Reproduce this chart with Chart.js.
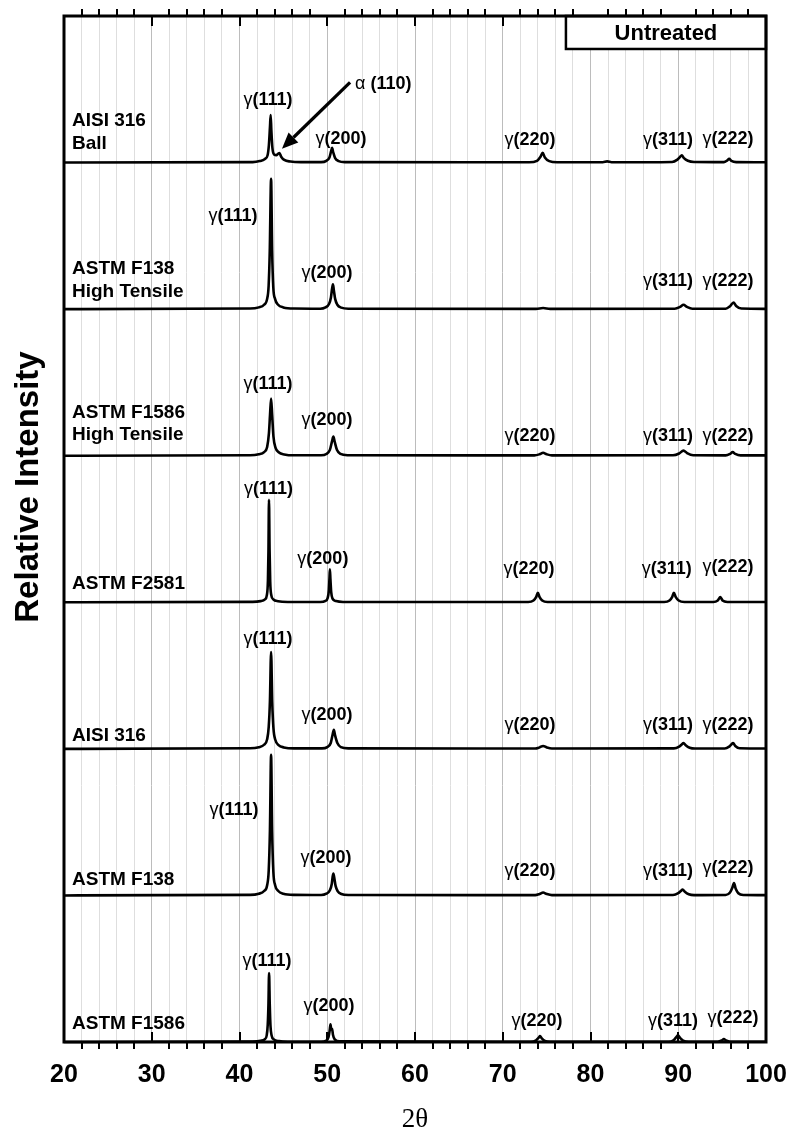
<!DOCTYPE html>
<html><head><meta charset="utf-8">
<script src="https://cdn.jsdelivr.net/npm/chart.js@4.4.1/dist/chart.umd.min.js"></script>
<style>html,body{margin:0;padding:0;background:#fff}canvas{display:block}</style>
</head><body>
<canvas id="c" width="790" height="1134"></canvas>
<script>
// ---- Data: XRD patterns, [2theta, relative intensity] (panel units) ----
const aisi316Ball = [[20,0],[41.5,0.003],[42.3,0.01],[42.9,0.025],[43.2,0.05],[43.35,0.12],[43.47,0.24],[43.55,0.325],[43.63,0.22],[43.75,0.1],[43.95,0.055],[44.2,0.05],[44.4,0.06],[44.55,0.065],[44.75,0.04],[45.1,0.018],[45.8,0.007],[47,0.003],
 [49.3,0.003],[49.9,0.012],[50.25,0.035],[50.45,0.08],[50.55,0.1],[50.68,0.07],[50.9,0.03],[51.3,0.01],[52,0.003],
 [73,0.002],[73.9,0.012],[74.3,0.04],[74.55,0.066],[74.8,0.035],[75.3,0.01],[76.2,0.002],
 [81.4,0.002],[81.9,0.008],[82.4,0.002],
 [89.3,0.004],[89.9,0.02],[90.2,0.038],[90.4,0.05],[90.65,0.03],[91.1,0.012],[91.8,0.004],
 [95.2,0.003],[95.6,0.015],[95.8,0.025],[96.05,0.012],[96.6,0.003],[100,0.002]];
const f138HighTensile = [[20,0],[41.2,0.004],[42.2,0.012],[42.8,0.03],[43.15,0.07],[43.32,0.16],[43.45,0.4],[43.6,0.89],[43.72,0.4],[43.85,0.15],[44.05,0.07],[44.4,0.03],[45,0.012],[46.2,0.004],
 [49.2,0.003],[49.8,0.012],[50.2,0.035],[50.42,0.08],[50.55,0.14],[50.65,0.17],[50.75,0.13],[50.9,0.07],[51.15,0.03],[51.6,0.01],[52.4,0.003],
 [73.8,0.002],[74.6,0.008],[75.4,0.002],
 [89.6,0.003],[90.2,0.015],[90.6,0.03],[91,0.015],[91.6,0.003],
 [95.4,0.003],[95.9,0.02],[96.3,0.045],[96.6,0.022],[97.2,0.004],[100,0.002]];
const f1586HighTensile = [[20,0],[41.2,0.003],[42.2,0.01],[42.8,0.025],[43.15,0.06],[43.35,0.15],[43.48,0.28],[43.6,0.39],[43.72,0.28],[43.87,0.13],[44.1,0.055],[44.5,0.022],[45.1,0.009],[46.2,0.003],
 [49.3,0.003],[49.9,0.012],[50.3,0.04],[50.55,0.1],[50.7,0.13],[50.85,0.095],[51.1,0.04],[51.5,0.012],[52.3,0.003],
 [73.6,0.002],[74.2,0.01],[74.6,0.02],[75,0.01],[75.6,0.002],
 [89.4,0.003],[90.1,0.015],[90.6,0.035],[91.0,0.018],[91.7,0.003],
 [95.4,0.002],[95.9,0.012],[96.2,0.025],[96.5,0.012],[97.1,0.002],[100,0.002]];
const f2581 = [[20,0],[41.5,0.003],[42.4,0.008],[42.9,0.02],[43.12,0.05],[43.24,0.15],[43.3,0.35],[43.36,0.70],[43.43,0.35],[43.5,0.14],[43.62,0.05],[43.85,0.02],[44.4,0.007],[45.5,0.002],
 [49.2,0.002],[49.8,0.01],[50.05,0.03],[50.18,0.08],[50.25,0.16],[50.3,0.225],[50.36,0.16],[50.45,0.07],[50.6,0.025],[51,0.008],[51.8,0.002],
 [72.9,0.002],[73.5,0.012],[73.8,0.035],[74.0,0.065],[74.2,0.035],[74.5,0.012],[75.1,0.002],
 [88.4,0.002],[89.0,0.012],[89.3,0.035],[89.5,0.065],[89.72,0.035],[90.05,0.012],[90.7,0.002],
 [94.0,0.002],[94.5,0.012],[94.8,0.035],[95.05,0.012],[95.6,0.002],[100,0.002]];
const aisi316 = [[20,0],[41.2,0.004],[42.2,0.011],[42.8,0.028],[43.15,0.065],[43.33,0.15],[43.47,0.33],[43.6,0.66],[43.73,0.32],[43.87,0.14],[44.08,0.062],[44.45,0.026],[45.05,0.01],[46.2,0.003],
 [49.4,0.003],[50.0,0.012],[50.4,0.04],[50.62,0.1],[50.75,0.13],[50.9,0.09],[51.15,0.04],[51.55,0.012],[52.4,0.003],
 [73.7,0.002],[74.2,0.01],[74.6,0.02],[75,0.01],[75.6,0.002],
 [89.5,0.003],[90.1,0.015],[90.4,0.03],[90.6,0.04],[90.85,0.025],[91.3,0.008],[91.9,0.002],
 [95.3,0.002],[95.8,0.015],[96.05,0.03],[96.25,0.04],[96.5,0.02],[97.0,0.004],[100,0.002]];
const f138 = [[20,0],[41.2,0.004],[42.2,0.012],[42.8,0.03],[43.15,0.07],[43.33,0.17],[43.47,0.45],[43.6,0.96],[43.72,0.44],[43.86,0.16],[44.06,0.07],[44.42,0.03],[45,0.012],[46.2,0.004],
 [49.3,0.003],[49.9,0.012],[50.3,0.035],[50.52,0.08],[50.62,0.13],[50.7,0.15],[50.8,0.12],[50.95,0.065],[51.2,0.028],[51.6,0.01],[52.4,0.003],
 [73.7,0.002],[74.2,0.01],[74.6,0.02],[75,0.01],[75.6,0.002],
 [89.4,0.003],[90.0,0.015],[90.3,0.03],[90.5,0.04],[90.75,0.025],[91.2,0.008],[91.8,0.002],
 [95.4,0.003],[95.9,0.02],[96.15,0.05],[96.35,0.085],[96.55,0.045],[96.85,0.015],[97.4,0.003],[100,0.002]];
const f1586 = [[20,0],[41.5,0.003],[42.4,0.008],[42.9,0.02],[43.1,0.045],[43.22,0.12],[43.3,0.26],[43.37,0.47],[43.45,0.25],[43.53,0.11],[43.66,0.045],[43.9,0.018],[44.5,0.006],[45.5,0.002],
 [49.3,0.002],[49.9,0.01],[50.15,0.035],[50.28,0.08],[50.37,0.12],[50.45,0.085],[50.55,0.09],[50.65,0.05],[50.85,0.018],[51.4,0.004],
 [73.2,0.002],[73.8,0.012],[74.1,0.03],[74.25,0.04],[74.45,0.025],[74.8,0.008],[75.4,0.002],
 [88.9,0.002],[89.5,0.014],[89.8,0.035],[89.97,0.045],[90.2,0.028],[90.55,0.01],[91.2,0.002],
 [94.5,0.002],[94.95,0.01],[95.2,0.02],[95.45,0.01],[95.9,0.002],[100,0.002]];

// panels, top to bottom
const spectra = [aisi316Ball, f138HighTensile, f1586HighTensile, f2581, aisi316, f138, f1586];
const sampleNames = [['AISI 316','Ball'],['ASTM F138','High Tensile'],['ASTM F1586','High Tensile'],['ASTM F2581'],['AISI 316'],['ASTM F138'],['ASTM F1586']];
const sampleNameY = [[0.25,0.095],[0.24,0.082],[0.26,0.11],[0.09],[0.055],[0.07],[0.09]];

// peak labels per panel: [reflection, label-centre 2theta, label baseline height]
const peakLabels = [
  [['111',43.25,0.39],['200',51.57,0.13],['220',73.1,0.12],['311',88.83,0.12],['222',95.67,0.13]],
  [['111',39.26,0.60],['200',49.97,0.21],['311',88.83,0.157],['222',95.67,0.157]],
  [['111',43.25,0.457],['200',49.97,0.21],['220',73.1,0.10],['311',88.83,0.10],['222',95.67,0.10]],
  [['111',43.3,0.737],['200',49.5,0.26],['220',73.0,0.19],['311',88.7,0.19],['222',95.67,0.21]],
  [['111',43.25,0.716],['200',49.97,0.20],['220',73.1,0.13],['311',88.83,0.13],['222',95.67,0.13]],
  [['111',39.37,0.546],['200',49.86,0.22],['220',73.1,0.13],['311',88.83,0.13],['222',95.67,0.15]],
  [['111',43.13,0.52],['200',50.2,0.21],['220',73.9,0.11],['311',89.4,0.11],['222',96.24,0.13]]
];
const alphaLabel = ['(110)', 53.16, 0.50];
const alphaArrow = [[52.6,0.547],[44.84,0.095]];
const boxLabel = 'Untreated';
const xTitle = '2θ';
const yTitle = 'Relative Intensity';

const nPanels = spectra.length;
const datasets = spectra.map((s, i) => ({
  data: s.map(p => ({x: p[0], y: p[1] + (nPanels - 1 - i)})),
  borderColor: '#000', borderWidth: 2.6, pointRadius: 0,
  cubicInterpolationMode: 'monotone', clip: false, borderJoinStyle: 'round'
}));

const SANS = '"Liberation Sans", Arial, sans-serif';

const deco = {
  id: 'deco',
  afterDraw(chart) {
    const {ctx, chartArea: a, scales: {x, y}} = chart;
    ctx.save();
    ctx.fillStyle = '#000'; ctx.strokeStyle = '#000';
    // ticks: major inward, minor outward
    ctx.lineWidth = 2;
    x.ticks.forEach(t => {
      const px = Math.round(x.getPixelForValue(t.value));
      ctx.beginPath();
      if (t.value % 10 === 0) {
        ctx.moveTo(px, a.top); ctx.lineTo(px, a.top + 10);
        ctx.moveTo(px, a.bottom); ctx.lineTo(px, a.bottom - 10);
      } else {
        ctx.moveTo(px, a.top); ctx.lineTo(px, a.top - 7);
        ctx.moveTo(px, a.bottom); ctx.lineTo(px, a.bottom + 7);
      }
      ctx.stroke();
    });
    // untreated box
    const bx = x.getPixelForValue(77.2), by = y.getPixelForValue(6.775);
    ctx.fillStyle = '#fff';
    ctx.fillRect(bx, a.top, a.right - bx, by - a.top);
    ctx.lineWidth = 2.5;
    ctx.strokeRect(bx, a.top, a.right - bx, by - a.top);
    ctx.fillStyle = '#000';
    ctx.font = 'bold 22px ' + SANS;
    ctx.textAlign = 'center'; ctx.textBaseline = 'middle';
    ctx.fillText(boxLabel, (bx + a.right) / 2, (a.top + by) / 2 + 1);
    // border
    ctx.lineWidth = 3;
    ctx.strokeRect(a.left, a.top, a.right - a.left, a.bottom - a.top);
    // sample names
    ctx.textAlign = 'left'; ctx.textBaseline = 'alphabetic';
    ctx.font = 'bold 19px ' + SANS;
    sampleNames.forEach((lines, i) => {
      const off = nPanels - 1 - i;
      lines.forEach((ln, j) => {
        ctx.fillText(ln, x.getPixelForValue(20.91), y.getPixelForValue(off + sampleNameY[i][j]));
      });
    });
    // peak labels
    const drawPeak = (greek, hkl, cx, cy, anchorLeft, gap) => {
      ctx.font = '18px ' + SANS;
      const wg = ctx.measureText(greek).width + (gap || 0);
      ctx.font = 'bold 18px ' + SANS;
      const wh = ctx.measureText('(' + hkl + ')').width;
      const x0 = anchorLeft ? cx : cx - (wg + wh) / 2;
      ctx.font = '18px ' + SANS;
      ctx.fillText(greek, x0, cy);
      ctx.font = 'bold 18px ' + SANS;
      ctx.fillText('(' + hkl + ')', x0 + wg, cy);
    };
    peakLabels.forEach((arr, i) => {
      const off = nPanels - 1 - i;
      arr.forEach(([hkl, lx, ly]) => drawPeak('γ', hkl, x.getPixelForValue(lx), y.getPixelForValue(off + ly), false, 0));
    });
    // alpha label + arrow
    const top = nPanels - 1;
    drawPeak('α', alphaLabel[0].slice(1, -1), x.getPixelForValue(alphaLabel[1]), y.getPixelForValue(top + alphaLabel[2]), true, 5);
    const x1 = x.getPixelForValue(alphaArrow[0][0]), y1 = y.getPixelForValue(top + alphaArrow[0][1]);
    const x2 = x.getPixelForValue(alphaArrow[1][0]), y2 = y.getPixelForValue(top + alphaArrow[1][1]);
    const ang = Math.atan2(y2 - y1, x2 - x1);
    const hl = 16, hw = 7;
    const bxh = x2 - hl * Math.cos(ang), byh = y2 - hl * Math.sin(ang);
    ctx.lineWidth = 3.2; ctx.lineCap = 'butt';
    ctx.beginPath(); ctx.moveTo(x1, y1); ctx.lineTo(bxh, byh); ctx.stroke();
    ctx.beginPath();
    ctx.moveTo(x2, y2);
    ctx.lineTo(bxh + hw * Math.sin(ang), byh - hw * Math.cos(ang));
    ctx.lineTo(bxh - hw * Math.sin(ang), byh + hw * Math.cos(ang));
    ctx.closePath(); ctx.fill();
    // y title
    ctx.save();
    ctx.translate(29, 487);
    ctx.rotate(-Math.PI / 2);
    ctx.font = 'bold 33px ' + SANS;
    ctx.textAlign = 'center'; ctx.textBaseline = 'middle';
    ctx.fillText(yTitle, 0, 0);
    ctx.restore();
    ctx.restore();
  }
};

new Chart(document.getElementById('c'), {
  type: 'line',
  data: { datasets },
  options: {
    responsive: false, animation: false, devicePixelRatio: 1,
    layout: { padding: { top: 16, right: 24, left: 0, bottom: 0 } },
    plugins: { legend: { display: false }, tooltip: { enabled: false } },
    scales: {
      x: {
        type: 'linear', min: 20, max: 100,
        afterFit: s => { s.height = 92; },
        ticks: {
          stepSize: 2, autoSkip: false, maxRotation: 0, padding: 3, color: '#000',
          font: { family: SANS, size: 25, weight: 'bold' },
          callback: v => (v % 10 === 0 ? String(v) : '')
        },
        grid: {
          drawTicks: true, tickLength: 15, tickColor: 'rgba(0,0,0,0)',
          color: c => (c.tick && c.tick.value % 10 === 0 ? '#bcbcbc' : '#dedede'),
          lineWidth: 1
        },
        border: { display: false },
        title: { display: true, text: xTitle, color: '#000',
          font: { family: '"Liberation Serif", "Times New Roman", serif', size: 27, lineHeight: 1 },
          padding: { top: 0, bottom: 1 } }
      },
      y: {
        min: 0, max: nPanels,
        afterFit: s => { s.width = 64; },
        ticks: { display: false },
        grid: { display: false },
        border: { display: false }
      }
    }
  },
  plugins: [deco]
});
</script>
</body></html>
